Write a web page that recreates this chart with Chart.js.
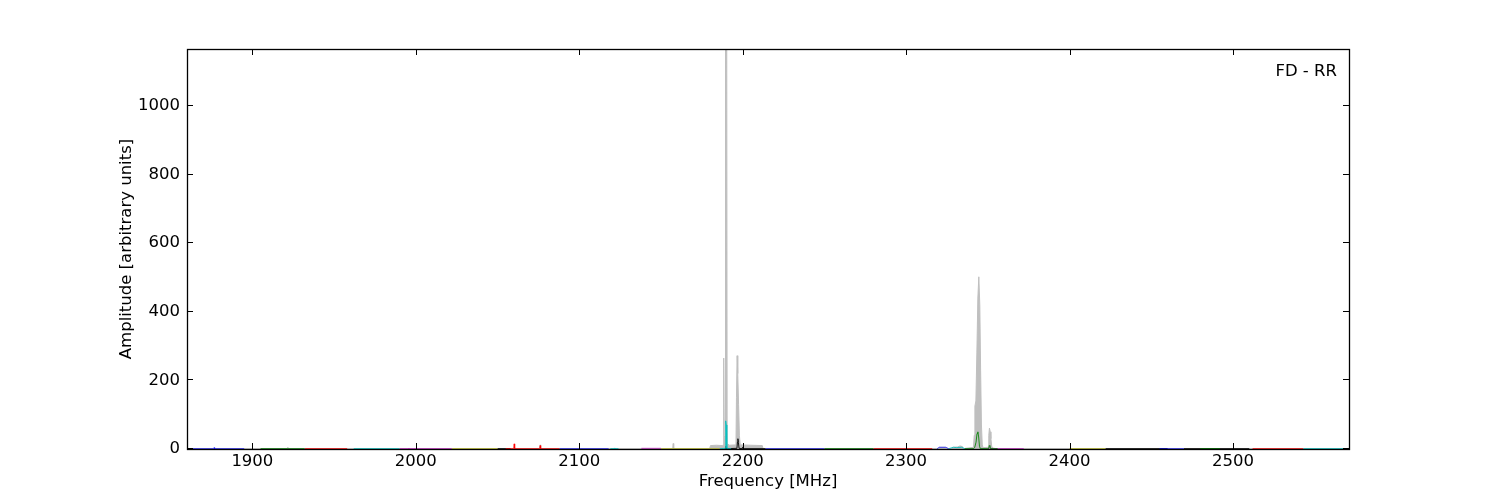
<!DOCTYPE html>
<html>
<head>
<meta charset="utf-8">
<script src="https://cdn.jsdelivr.net/npm/chart.js@4.4.1/dist/chart.umd.min.js"></script>
<style>
  html, body { margin: 0; padding: 0; background: #fff; }
  #wrap { width: 1500px; height: 500px; }
</style>
</head>
<body>
<div id="wrap"><canvas id="c" width="1500" height="500"></canvas></div>
<script>
// ---- axis ticks ----
const xTicks = [1900, 2000, 2100, 2200, 2300, 2400, 2500];
const yTicks = [0, 200, 400, 600, 800, 1000];
const xRange = [1860, 2571];
const yRange = [0, 1166];
const panelLabel = 'FD - RR';

// ---- grey (maximum) spectrum ----
const greyFreq = [1860, 1921.4, 1921.7, 1922, 2075.8, 2076.1, 2076.4, 2157.2, 2157.5, 2157.8,
  2179.8, 2180.3, 2184, 2187.5, 2188.1, 2188.4, 2188.7, 2189.2, 2189.5, 2190.2, 2190.5, 2192,
  2195.9, 2196.2, 2196.6, 2197.0, 2197.5, 2198.0, 2198.5, 2205, 2212, 2212.5,
  2319.8, 2320.3, 2324.3, 2324.7, 2327.9, 2328.4, 2331.5, 2333, 2334.5, 2335,
  2341.2, 2341.7, 2342.1, 2342.7, 2343.3, 2343.9, 2344.5, 2345.1, 2345.6, 2346.1, 2346.6, 2347.1,
  2350.2, 2350.6, 2351.0, 2351.5, 2351.9, 2352.4, 2353, 2355, 2571];
const greyAmp = [1, 1, 5, 1, 1, 12, 1, 1, 16, 1,
  1, 10, 11, 10, 12, 265, 40, 30, 1500, 1500, 15, 11,
  12, 150, 272, 220, 130, 40, 12, 11, 10, 1,
  1, 5, 5, 1, 1, 5, 6, 9, 7, 1,
  5, 40, 125, 140, 280, 440, 502, 420, 230, 70, 12, 4,
  5, 40, 61, 50, 30, 8, 3, 1, 1];

// ---- coloured sub-band spectra (null = gap between sub-bands) ----
const blueFreq = [1860, 1876.3, 1876.6, 1876.9, 1895, null, 2088, 2118, null, 2214, 2250, null, 2319, 2320.3, 2324.3, 2326, null, 2455, 2470];
const blueAmp  = [1, 1, 4, 1, 1, null, 1, 1, null, 1, 1, null, 1, 5, 5, 1, null, 1, 1];

const greenFreq = [1905, 1932, null, 2250, 2280, null, 2336, 2341.3, 2342.0, 2342.8, 2343.4, 2343.9, 2344.4, 2344.9, 2345.4, 2350.5, 2350.9, 2351.3, 2351.7, 2356, null, 2480, 2492];
const greenAmp  = [1, 1, null, 1, 1, null, 1, 1, 5, 20, 45, 50, 35, 8, 1, 1, 10, 8, 1, 1, null, 1, 1];

const redFreq = [1932, 1958, null, 2055, 2059.9, 2060.2, 2060.5, 2075.8, 2076.1, 2076.4, 2088, null, 2280, 2316, null, 2512, 2543];
const redAmp  = [1, 1, null, 1, 1, 15, 1, 1, 10, 1, 1, null, 1, 1, null, 1, 1];

const cyanFreq = [1962, 1990, null, 2119, 2121.2, 2121.5, 2121.8, 2124, null, 2186, 2189.4, 2189.6, 2190.0, 2190.3, 2193, null, 2326, 2329, 2331, 2334, 2336, null, 2543, 2571];
const cyanAmp  = [1, 1, null, 1, 1, 3, 1, 1, null, 1, 2, 82, 70, 2, 1, null, 1, 5, 4, 5, 1, null, 1, 1];

const magentaFreq = [1990, 1995.1, 1995.4, 1995.7, 2022, null, 2138, 2150, null, 2350.5, 2351.0, 2351.5, 2372];
const magentaAmp  = [1, 1, 2.5, 1, 1, null, 2, 2, null, 1, 4, 1, 1];

const yellowFreq = [2022, 2050, null, 2150, 2186, null, 2400, 2422];
const yellowAmp  = [1, 1, null, 1, 1, null, 1, 1];

const blackFreq = [2050, 2058, null, 2189, 2189.5, 2189.8, 2190.1, 2196.5, 2196.8, 2197.1, 2197.4, 2197.8, 2199.8, 2200.1, 2200.4, 2214, null, 2422, 2460, null, 2470, 2510];
const blackAmp  = [1, 1, null, 1, 1, 8, 1, 2, 20, 30, 18, 2, 1, 6, 1, 1, null, 1, 1, null, 1, 1];

function pts(f, a) {
  return f.map((v, i) => (v === null ? { x: (f[i - 1] + f[i + 1]) / 2, y: null } : { x: v, y: a[i] }));
}

function lineSet(label, f, a, color) {
  return {
    label, data: pts(f, a), borderColor: color, backgroundColor: color,
    borderWidth: 1, pointRadius: 0, tension: 0, fill: false, spanGaps: false, order: 1
  };
}

const FONT = "'DejaVu Sans', sans-serif";
Chart.defaults.font.family = FONT;
Chart.defaults.font.size = 16.5;
Chart.defaults.color = '#000';

const frameTicks = {
  id: 'frameTicks',
  afterDatasetsDraw(chart) {
    const { ctx, chartArea: { left, right, top, bottom }, scales: { x, y } } = chart;
    ctx.save();
    ctx.strokeStyle = '#000';
    ctx.lineWidth = 1;
    ctx.beginPath();
    xTicks.forEach(v => {
      const px = Math.round(x.getPixelForValue(v)) + 0.5;
      ctx.moveTo(px, bottom); ctx.lineTo(px, bottom - 6);
      ctx.moveTo(px, top); ctx.lineTo(px, top + 6);
    });
    yTicks.forEach(v => {
      const py = Math.round(y.getPixelForValue(v)) - 0.5;
      ctx.moveTo(left, py); ctx.lineTo(left + 6, py);
      ctx.moveTo(right, py); ctx.lineTo(right - 6, py);
    });
    ctx.stroke();
    ctx.lineWidth = 1.3;
    ctx.strokeRect(left + 0.5, top + 0.5, right - left, bottom - top);
    ctx.fillStyle = '#000';
    ctx.font = "16.5px " + FONT;
    ctx.textAlign = 'right';
    ctx.textBaseline = 'alphabetic';
    ctx.fillText(panelLabel, right - 12, top + 27);
    ctx.restore();
  }
};

new Chart(document.getElementById('c'), {
  type: 'line',
  data: {
    datasets: [
      lineSet('b', blueFreq, blueAmp, 'rgba(0,0,255,0.7)'),
      lineSet('g', greenFreq, greenAmp, 'rgba(0,128,0,0.85)'),
      lineSet('r', redFreq, redAmp, 'rgba(255,0,0,0.85)'),
      lineSet('c', cyanFreq, cyanAmp, 'rgba(0,191,191,0.85)'),
      lineSet('m', magentaFreq, magentaAmp, 'rgba(191,0,191,0.7)'),
      lineSet('y', yellowFreq, yellowAmp, 'rgba(191,191,0,0.7)'),
      lineSet('k', blackFreq, blackAmp, 'rgba(0,0,0,0.9)'),
      {
        label: 'max', data: greyFreq.map((v, i) => ({ x: v, y: greyAmp[i] })),
        borderColor: '#bfbfbf', backgroundColor: '#bfbfbf', borderWidth: 1,
        pointRadius: 0, tension: 0, fill: 'origin', order: 10
      }
    ]
  },
  options: {
    responsive: false,
    animation: false,
    events: [],
    layout: { padding: { left: 100, right: 151, top: 49, bottom: 0 } },
    plugins: { legend: { display: false }, tooltip: { enabled: false } },
    scales: {
      x: {
        type: 'linear', min: xRange[0], max: xRange[1],
        afterBuildTicks: s => { s.ticks = xTicks.map(v => ({ value: v })); },
        afterFit: s => { s.height = 51; },
        grid: { display: false, drawTicks: false },
        border: { display: false },
        ticks: { padding: 3, maxRotation: 0, autoSkip: false, callback: v => String(v) },
        title: { display: true, text: 'Frequency [MHz]', padding: { top: 0, bottom: 8 } }
      },
      y: {
        type: 'linear', min: yRange[0], max: yRange[1],
        afterBuildTicks: s => { s.ticks = yTicks.map(v => ({ value: v })); },
        afterFit: s => { s.width = 87; },
        grid: { display: false, drawTicks: false },
        border: { display: false },
        ticks: { padding: 7, autoSkip: false, callback: v => String(v) },
        title: { display: true, text: 'Amplitude [arbitrary units]', padding: { top: 17, bottom: 0 } }
      }
    }
  },
  plugins: [frameTicks]
});
</script>
</body>
</html>
